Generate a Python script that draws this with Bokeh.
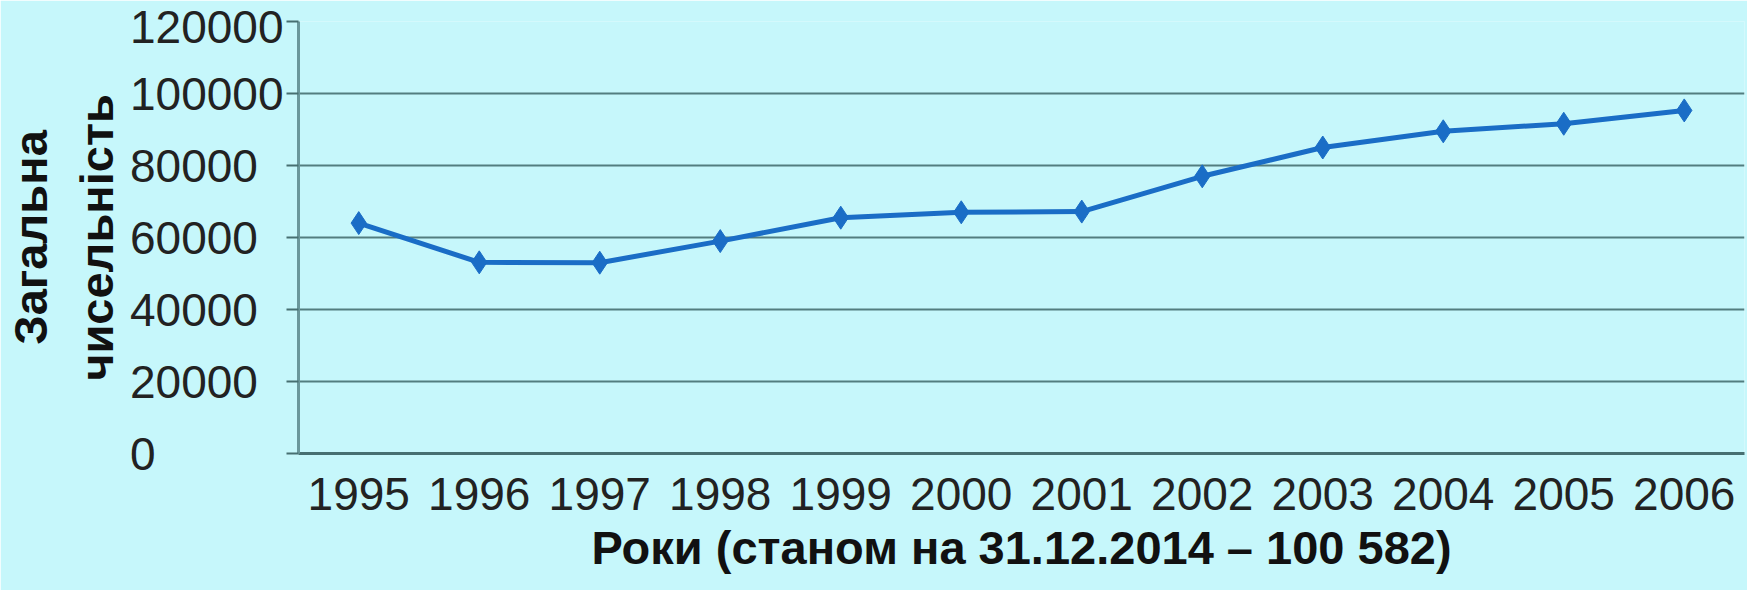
from bokeh.plotting import figure
from bokeh.models import Range1d, FixedTicker
from bokeh.embed import file_html
from bokeh.resources import INLINE

years = ["1995", "1996", "1997", "1998", "1999", "2000",
         "2001", "2002", "2003", "2004", "2005", "2006"]
values = [64000, 53100, 53000, 59000, 65500, 67000,
          67200, 77000, 85000, 89500, 91600, 95300]
y_ticks = [0, 20000, 40000, 60000, 80000, 100000, 120000]
y_tick_labels = ["0", "20000", "40000", "60000", "80000", "100000", "120000"]
x_title = "Роки (станом на 31.12.2014 – 100 582)"
y_title = "Загальна\nчисельність"

BG = "#c6f7fb"
GRID = "#466f71"
LINE = "#1a6dc6"
FONT = "Liberation Sans"

p = figure(x_range=years, y_range=Range1d(0, 120000),
           width=1747, height=590, output_backend="svg",
           toolbar_location=None,
           min_border_left=294, min_border_right=3,
           min_border_top=21, min_border_bottom=137)
p.background_fill_color = BG
p.border_fill_color = BG
p.outline_line_color = None

p.xgrid.grid_line_color = None
p.ygrid.grid_line_color = GRID
p.ygrid.grid_line_width = 2
p.ygrid.grid_line_alpha = 0.9

# pad labels with figure spaces so that they appear left aligned
width_max = max(len(s) for s in y_tick_labels)
overrides = {t: s + "\u2007" * (width_max - len(s)) for t, s in zip(y_ticks, y_tick_labels)}

p.yaxis.ticker = FixedTicker(ticks=y_ticks)
p.yaxis.major_label_overrides = overrides
p.yaxis.major_tick_out = 12
p.yaxis.major_tick_in = 0
p.yaxis.minor_tick_line_color = None
p.yaxis.major_tick_line_color = GRID
p.yaxis.major_tick_line_width = 2
p.yaxis.axis_line_color = "#6a979b"
p.yaxis.axis_line_width = 3
p.yaxis.major_label_text_font = FONT
p.yaxis.major_label_text_font_size = "46px"
p.yaxis.major_label_text_color = "#222222"
p.yaxis.major_label_standoff = 3
p.yaxis.axis_label = y_title
p.yaxis.axis_label_text_font = FONT
p.yaxis.axis_label_text_font_style = "bold"
p.yaxis.axis_label_text_font_size = "47px"
p.yaxis.axis_label_text_color = "#111111"
p.yaxis.axis_label_text_line_height = 1.25
p.yaxis.axis_label_standoff = 4

p.xaxis.major_tick_out = 0
p.xaxis.major_tick_in = 0
p.xaxis.axis_line_color = GRID
p.xaxis.axis_line_width = 3
p.xaxis.major_label_text_font = FONT
p.xaxis.major_label_text_font_size = "46px"
p.xaxis.major_label_text_color = "#222222"
p.xaxis.major_label_standoff = 24
p.xaxis.axis_label = x_title
p.xaxis.axis_label_text_font = FONT
p.xaxis.axis_label_text_font_style = "bold"
p.xaxis.axis_label_text_font_size = "47px"
p.xaxis.axis_label_text_color = "#111111"
p.xaxis.axis_label_text_line_height = 1.0
p.xaxis.axis_label_standoff = 8

p.line(years, values, line_color=LINE, line_width=5)
p.scatter(years, values, marker="diamond", size=23,
          fill_color=LINE, line_color=LINE)

html = file_html(p, INLINE)
html = html.replace("<body>", '<body style="background:%s;overflow:hidden">' % BG, 1)
open("out.html", "w").write(html)
